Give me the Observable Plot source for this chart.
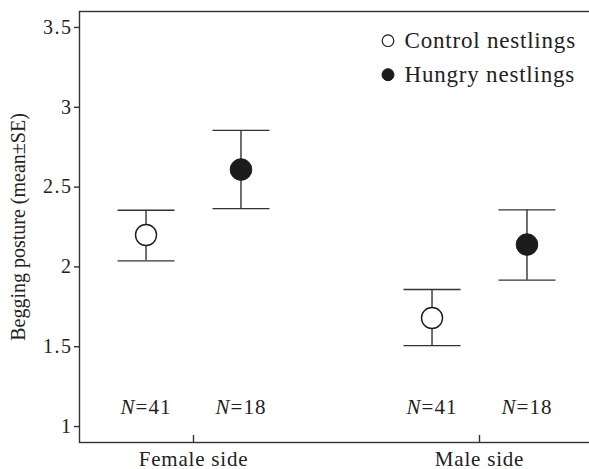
<!DOCTYPE html>
<html>
<head>
<meta charset="utf-8">
<script src="https://cdn.jsdelivr.net/npm/d3@7"></script>
<script src="https://cdn.jsdelivr.net/npm/@observablehq/plot@0.6"></script>
<style>
  html, body { margin: 0; padding: 0; background: #fff; overflow: hidden; }
</style>
</head>
<body>
<div id="chart"></div>
<script>
// ---- data ----
const sides = ["Female side", "Male side"];
const treatments = ["Control nestlings", "Hungry nestlings"];
const means = [[2.20, 2.61], [1.68, 2.14]];
const upper = [[2.355, 2.855], [1.858, 2.357]];
const lower = [[2.038, 2.365], [1.507, 1.917]];
const sampleN = [[41, 18], [41, 18]];
const yTicks = [1, 1.5, 2, 2.5, 3, 3.5];

// ---- build table ----
const dodge = 0.166;
const rows = [];
sides.forEach((s, si) => treatments.forEach((t, ti) => rows.push({
  side: s, treatment: t, ti,
  pos: si + 1 + (ti === 0 ? -dodge : dodge),
  mean: means[si][ti], hi: upper[si][ti], lo: lower[si][ti], n: sampleN[si][ti]
})));
const legend = treatments.map((t, i) => ({label: t, i}));

const ink = "#1c1c1c";
const lineCol = "#333";
const capSymbol = {
  draw(context, size) {
    const r = Math.sqrt(size / Math.PI);
    context.moveTo(-r, 0);
    context.lineTo(r, 0);
  }
};

const chart = Plot.plot({
  width: 589,
  height: 469,
  marginLeft: 79,
  marginRight: 0,
  marginTop: 11,
  marginBottom: 27,
  style: {fontFamily: "'Liberation Serif', serif", color: "#222", background: "#fff"},
  x: {domain: [0.6014, 2.3846]},
  y: {domain: [0.9, 3.6]},
  marks: [
    // frame: top, left, bottom (right edge lies beyond the picture)
    Plot.frame({insetRight: -20, stroke: lineCol, strokeWidth: 1.4}),
    // error bars
    Plot.ruleX(rows, {x: "pos", y1: "lo", y2: "hi", stroke: lineCol, strokeWidth: 1.4}),
    Plot.dot(rows, {x: "pos", y: "hi", symbol: capSymbol, r: 28.5, fill: "none", stroke: lineCol, strokeWidth: 1.4}),
    Plot.dot(rows, {x: "pos", y: "lo", symbol: capSymbol, r: 28.5, fill: "none", stroke: lineCol, strokeWidth: 1.4}),
    // means
    Plot.dot(rows.filter(d => d.ti === 0), {x: "pos", y: "mean", r: 10.5, fill: "#fff", stroke: ink, strokeWidth: 1.4}),
    Plot.dot(rows.filter(d => d.ti === 1), {x: "pos", y: "mean", r: 10.8, fill: ink, stroke: ink, strokeWidth: 1}),
    // sample sizes
    Plot.text(rows, {x: "pos", text: d => "N=" + d.n, frameAnchor: "bottom", lineAnchor: "bottom", dy: -28.5, fontSize: 21, fill: "#222"}),
    // legend
    Plot.dot(legend.filter(d => d.i === 0), {frameAnchor: "top-left", dx: 308.5, dy: 29.2, r: 5.8, fill: "#fff", stroke: ink, strokeWidth: 1.2}),
    Plot.dot(legend.filter(d => d.i === 1), {frameAnchor: "top-left", dx: 308.5, dy: 63.2, r: 6, fill: ink, stroke: ink, strokeWidth: 1}),
    Plot.text(legend.filter(d => d.i === 0), {frameAnchor: "top-left", dx: 325, dy: 29.2, text: "label", textAnchor: "start", lineAnchor: "middle", fontSize: 23, fill: "#222"}),
    Plot.text(legend.filter(d => d.i === 1), {frameAnchor: "top-left", dx: 325, dy: 63.2, text: "label", textAnchor: "start", lineAnchor: "middle", fontSize: 23, fill: "#222"}),
    // axes
    Plot.axisY({ticks: yTicks, tickFormat: d => String(d), tickSize: 5, tickPadding: 2, fontSize: 20,
      label: "Begging posture (mean±SE)", labelAnchor: "center", labelOffset: 69, labelArrow: false,
      stroke: lineCol, strokeWidth: 1.4}),
    Plot.axisX({ticks: [1, 2], tickFormat: d => sides[d - 1], tickSize: 0, tickPadding: 8.5, fontSize: 21,
      label: null, stroke: lineCol, strokeWidth: 1.4}),
    // inward category ticks
    Plot.ruleX([1, 2], {insetTop: 424, stroke: lineCol, strokeWidth: 1.4})
  ]
});

const svgNS = "http://www.w3.org/2000/svg";
d3.select(chart).selectAll("text").each(function () {
  const el = this;
  const s = el.textContent;
  // italic N in sample-size labels
  if (/^N=\d+$/.test(s) && el.children.length === 0) {
    el.textContent = "";
    const a = document.createElementNS(svgNS, "tspan");
    a.setAttribute("font-style", "italic");
    a.textContent = "N";
    const b = document.createElementNS(svgNS, "tspan");
    b.textContent = s.slice(1);
    el.appendChild(a);
    el.appendChild(b);
    el.style.letterSpacing = "1px";
  } else if (treatments.includes(s)) {
    el.style.letterSpacing = "0.8px";
  } else if (sides.includes(s)) {
    el.style.letterSpacing = "0.8px";
  } else if (/^\d(\.\d)?$/.test(s)) {
    el.style.letterSpacing = "1.5px";
  }
});

document.getElementById("chart").appendChild(chart);
</script>
</body>
</html>
